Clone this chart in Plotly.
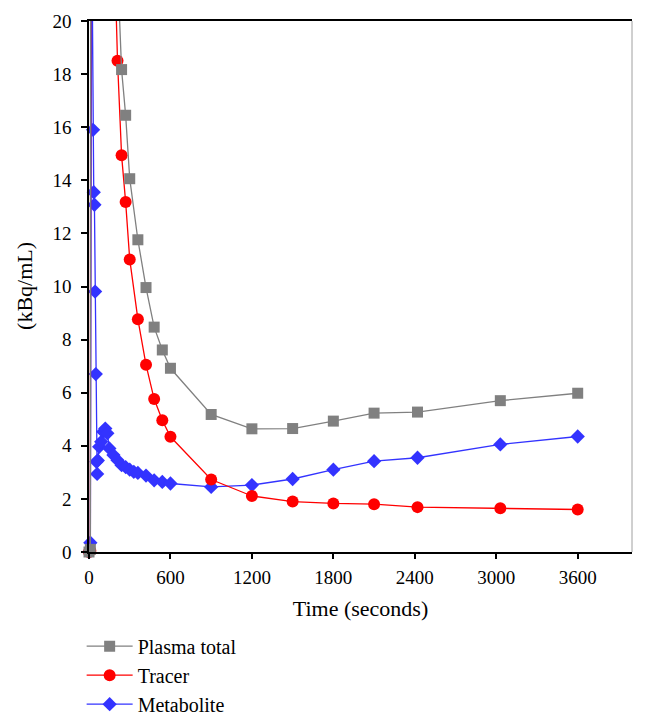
import plotly.graph_objects as go

# Time points (seconds)
plasma_t = [0, 10, 20, 30, 45, 60, 90, 120, 150, 180, 210, 240, 270, 300, 360, 420, 480,
            540, 600, 900, 1200, 1500, 1800, 2100, 2420, 3030, 3600]
plasma_v = [0, 0.1, 110, 140, 118, 95, 68, 50, 38, 27.6, 22.0, 18.17, 16.45, 14.06, 11.76,
            9.96, 8.47, 7.61, 6.92, 5.18, 4.64, 4.65, 4.93, 5.23, 5.27, 5.70, 5.98]

tracer_t = plasma_t
tracer_v = [0, 0.05, 85, 125, 104, 83, 58, 42, 31, 24.0, 18.5, 14.94, 13.18, 11.02, 8.77,
            7.05, 5.76, 4.96, 4.34, 2.73, 2.11, 1.90, 1.83, 1.80, 1.69, 1.65, 1.60]

metab_t = [0, 10, 20, 30, 35, 40, 45, 50, 55, 60, 65, 75, 90, 105, 120, 135, 150, 180, 210,
           240, 270, 300, 330, 360, 420, 480, 540, 600, 900, 1200, 1500, 1800, 2100, 2420,
           3030, 3600]
metab_v = [0, 0.35, 24, 15.9, 13.55, 13.08, 9.81, 6.7, 3.4, 2.94, 3.45, 3.96, 4.15, 4.53,
           4.65, 4.47, 3.9, 3.65, 3.46, 3.27, 3.2, 3.1, 3.02, 2.98, 2.88, 2.7, 2.64, 2.58,
           2.45, 2.52, 2.75, 3.1, 3.42, 3.55, 4.05, 4.35]

x_ticks = [0, 600, 1200, 1800, 2400, 3000, 3600]
y_ticks = [0, 2, 4, 6, 8, 10, 12, 14, 16, 18, 20]

FONT = "Liberation Serif"

fig = go.Figure()
fig.add_trace(go.Scatter(
    x=metab_t, y=metab_v, name="Metabolite", mode="lines+markers",
    line=dict(color="#3333ff", width=1.3),
    marker=dict(symbol="diamond", size=11, color="#3333ff"),
    cliponaxis=False,
))
fig.add_trace(go.Scatter(
    x=tracer_t, y=tracer_v, name="Tracer", mode="lines+markers",
    line=dict(color="#ff0000", width=1.3),
    marker=dict(symbol="circle", size=12, color="#ff0000"),
    cliponaxis=False,
))
fig.add_trace(go.Scatter(
    x=plasma_t, y=plasma_v, name="Plasma total", mode="lines+markers",
    line=dict(color="#808080", width=1.3),
    marker=dict(symbol="square", size=11, color="#808080"),
    cliponaxis=False,
))

fig.update_layout(
    width=646, height=727,
    margin=dict(l=81, r=22, t=13, b=183, autoexpand=False),
    paper_bgcolor="white", plot_bgcolor="white",
    font=dict(family=FONT, size=19, color="black"),
    showlegend=True,
    legend=dict(
        traceorder="reversed",
        xref="container", yref="container",
        x=0.114, y=0.149, xanchor="left", yanchor="top",
        font=dict(family=FONT, size=20, color="black"),
        bgcolor="rgba(0,0,0,0)",
        tracegroupgap=0,
        itemwidth=46,
    ),
    xaxis=dict(
        range=[0, 4000], tickvals=x_ticks, ticktext=[str(v) for v in x_ticks],
        showgrid=False, zeroline=False,
        showline=True, linecolor="black", linewidth=1.5, mirror=True,
        ticks="outside", ticklen=5, tickwidth=1.5, tickcolor="black",
        ticklabelstandoff=2,
        title=dict(text="Time (seconds)", font=dict(family=FONT, size=22), standoff=14),
        tickfont=dict(family=FONT, size=19),
    ),
    yaxis=dict(
        range=[0, 20], tickvals=y_ticks,
        showgrid=False, zeroline=False,
        showline=True, linecolor="black", linewidth=1.5, mirror=False,
        ticks="outside", ticklen=6, tickwidth=1.5, tickcolor="black",
        ticklabelstandoff=6,
        tickfont=dict(family=FONT, size=19),
    ),
    annotations=[dict(
        text="(kBq/mL)", xref="paper", yref="paper", x=-0.118, y=0.501,
        xanchor="center", yanchor="middle", textangle=-90, showarrow=False,
        font=dict(family=FONT, size=22, color="black"),
    )],
    shapes=[dict(type="line", xref="paper", yref="paper", x0=1, x1=1, y0=0, y1=1,
                 line=dict(color="#a0a0a0", width=1))],
)

fig.write_html("out.html")
